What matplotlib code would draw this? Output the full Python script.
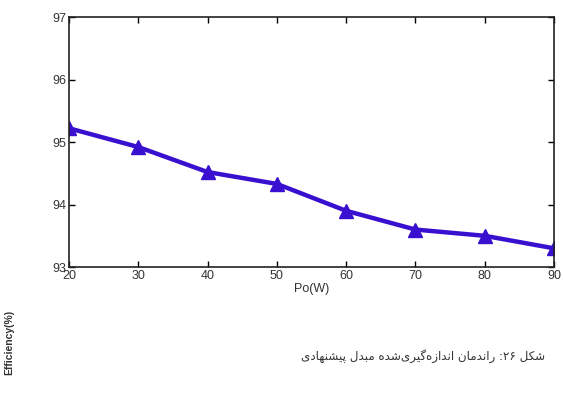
import numpy as np
import matplotlib
matplotlib.use('Agg')
import matplotlib.pyplot as plt

# data
po = [20, 30, 40, 50, 60, 70, 80, 90]
eff = [95.22, 94.92, 94.52, 94.33, 93.9, 93.6, 93.5, 93.3]
xticks = [20, 30, 40, 50, 60, 70, 80, 90]
yticks = [93, 94, 95, 96, 97]

# Persian caption, pre-shaped in visual (left-to-right) order since matplotlib has no bidi
caption = ('\uFBFC\uFEA9\uFE8E\uFEEC\uFEE8\uFEB8\uFBFF\uFB58 '
           '\uFEDD\uFEAA\uFE92\uFEE3 '
           '\uFEE9\uFEAA\uFEB7\uFBFC\uFEAE\uFBFF\uFB94\uFEE9\uFEAF\uFE8D\uFEAA\uFEE7\uFE8D '
           '\uFEE5\uFE8E\uFEE3\uFEAA\uFEE7\uFE8D\uFEAD '
           ':\u06F2\u06F6 '
           '\uFEDE\uFB91\uFEB7')

plt.rcParams['font.family'] = ['Liberation Sans', 'DejaVu Sans']

fig = plt.figure(figsize=(5.63, 4.01), dpi=100)
ax = fig.add_axes([0.1226, 0.334, 0.8614, 0.6236])

ax.plot(po, eff, color='#3a10d0', lw=3.2, marker='^', markersize=10)

ax.set_xlim(20, 90)
ax.set_ylim(93, 97)
ax.set_xticks(xticks)
ax.set_yticks(yticks)
ax.tick_params(direction='in', top=True, right=True, labelsize=9,
               labelcolor='#333333', length=4, width=1)
ax.tick_params(axis='y', pad=2)
ax.tick_params(axis='x', pad=2)
for s in ax.spines.values():
    s.set_linewidth(1.2)
    s.set_color('#222222')

ax.set_xlabel('Po(W)', fontsize=9, color='#333333', labelpad=1)
fig.text(0.016, 0.145, 'Efficiency(%)', rotation=90, fontsize=7.5,
         fontweight='bold', color='#333333', ha='center', va='center')

fig.text(0.752, 0.113, caption, fontsize=8.6, family='DejaVu Sans',
         color='#333333', ha='center', va='center')

fig.savefig('out.png', dpi=100)
